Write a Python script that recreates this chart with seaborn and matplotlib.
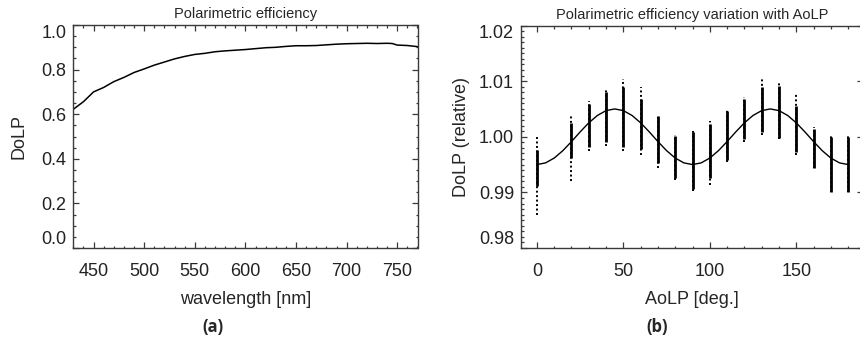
import numpy as np
import pandas as pd
import matplotlib
matplotlib.use("Agg")
import matplotlib.pyplot as plt
import seaborn as sns
from matplotlib.ticker import MultipleLocator

# ---------------- data ----------------
wavelength = [430, 440, 450, 460, 470, 480, 490, 500, 510, 520, 530, 540, 550,
              560, 570, 580, 590, 600, 610, 620, 630, 640, 650, 660, 670, 680,
              690, 700, 710, 720, 730, 740, 745, 750, 760, 770]
dolp = [0.622, 0.656, 0.700, 0.720, 0.746, 0.765, 0.787, 0.803, 0.820, 0.834,
        0.848, 0.859, 0.868, 0.873, 0.880, 0.884, 0.887, 0.890, 0.894, 0.898,
        0.900, 0.904, 0.907, 0.907, 0.908, 0.911, 0.914, 0.916, 0.917, 0.918,
        0.917, 0.918, 0.917, 0.910, 0.908, 0.903]

# fitted curve of relative DoLP vs AoLP
fit_aolp = [0, 5, 10, 15, 20, 25, 30, 35, 40, 45, 50, 55, 60, 65, 70, 75, 80,
            85, 90, 95, 100, 105, 110, 115, 120, 125, 130, 135, 140, 145, 150,
            155, 160, 165, 170, 175, 180]
fit_dolp = [0.99500, 0.99530, 0.99617, 0.99750, 0.99913, 1.00087, 1.00250,
            1.00383, 1.00470, 1.00500, 1.00470, 1.00383, 1.00250, 1.00087,
            0.99913, 0.99750, 0.99617, 0.99530, 0.99500, 0.99530, 0.99617,
            0.99750, 0.99913, 1.00087, 1.00250, 1.00383, 1.00470, 1.00500,
            1.00470, 1.00383, 1.00250, 1.00087, 0.99913, 0.99750, 0.99617,
            0.99530, 0.99500]

# measured relative DoLP columns: sparse extent (min/max) and dense core
col_aolp = [0, 20, 30, 40, 50, 60, 70, 80, 90, 100, 110, 120, 130, 140, 150,
            160, 170, 180]
col_min = [0.9860, 0.9920, 0.9974, 0.9984, 0.9974, 0.9968, 0.9944, 0.9923,
           0.9903, 0.9913, 0.9955, 0.9990, 1.0003, 0.9996, 0.9968, 0.9943,
           0.9900, 0.9900]
col_max = [1.0003, 1.0040, 1.0064, 1.0084, 1.0103, 1.0089, 1.0040, 1.0004,
           1.0010, 1.0029, 1.0050, 1.0071, 1.0106, 1.0098, 1.0076, 1.0017,
           1.0001, 1.0001]
core_lo = [0.9912, 0.9962, 0.9982, 0.9990, 0.9982, 0.9978, 0.9952, 0.9925,
           0.9906, 0.9925, 0.9958, 0.9996, 1.0008, 0.9998, 0.9973, 0.9944,
           0.9900, 0.9900]
core_hi = [0.9976, 1.0024, 1.0058, 1.0080, 1.0090, 1.0068, 1.0037, 1.0001,
           1.0008, 1.0023, 1.0047, 1.0068, 1.0090, 1.0091, 1.0056, 1.0014,
           1.0000, 1.0000]

# ---------------- styling ----------------
sns.set_theme(style="white")
plt.rcParams["font.family"] = ["Liberation Sans", "DejaVu Sans"]
spine_col = "#3a3a3a"
plt.rcParams.update({
    "axes.edgecolor": spine_col,
    "axes.linewidth": 1.0,
    "xtick.color": spine_col,
    "ytick.color": spine_col,
    "xtick.labelcolor": "#222222",
    "ytick.labelcolor": "#222222",
})

fig = plt.figure(figsize=(8.6, 3.48), dpi=100)
W, H = 860.0, 348.0

def px_axes(l, r, t, b):
    return fig.add_axes([l / W, 1 - b / H, (r - l) / W, (b - t) / H])

ax1 = px_axes(73.3, 417.5, 25, 248)
ax2 = px_axes(521, 862.5, 25.5, 248)

def style_axes(ax):
    ax.tick_params(which="both", direction="in", top=True, right=True,
                   bottom=True, left=True, labelsize=13, width=0.9,
                   color=spine_col)
    ax.tick_params(which="major", length=4.0)
    ax.tick_params(which="minor", length=1.8)
    ax.tick_params(axis="x", pad=11)
    ax.tick_params(axis="y", pad=5)
    for s in ax.spines.values():
        s.set_color(spine_col)
        s.set_linewidth(1.0)

# ---- panel (a) ----
df1 = pd.DataFrame({"wavelength": wavelength, "dolp": dolp})
sns.lineplot(data=df1, x="wavelength", y="dolp", ax=ax1, color="black",
             linewidth=1.1)
ax1.set_xlim(430, 770)
ax1.set_ylim(0.0, 1.0)
ax1.set_xticks([450, 500, 550, 600, 650, 700, 750])
ax1.set_yticks([0.0, 0.2, 0.4, 0.6, 0.8, 1.0])
ax1.set_yticklabels(["0.0", "0.2", "0.4", "0.6", "0.8", "1.0"])
ax1.xaxis.set_minor_locator(MultipleLocator(10))
ax1.yaxis.set_minor_locator(MultipleLocator(0.05))
style_axes(ax1)
ax1.set_xlabel("wavelength [nm]", fontsize=13, labelpad=8)
ax1.set_ylabel("DoLP", fontsize=13, labelpad=10)
ax1.set_title("Polarimetric efficiency", fontsize=10.5, pad=5)
labs = ax1.get_yticklabels()
labs[0].set_va("bottom")
labs[-1].set_va("top")

# ---- panel (b) ----
ax2.vlines(col_aolp, col_min, col_max, colors="black", linewidth=1.4,
           linestyles=(0, (1.0, 1.3)))
ax2.vlines(col_aolp, core_lo, core_hi, colors="black", linewidth=2.0)
df2 = pd.DataFrame({"aolp": fit_aolp, "dolp": fit_dolp})
sns.lineplot(data=df2, x="aolp", y="dolp", ax=ax2, color="black",
             linewidth=1.0)
ax2.set_xlim(-9.2, 188.3)
ax2.set_ylim(0.98, 1.02)
ax2.set_xticks([0, 50, 100, 150])
ax2.set_yticks([0.98, 0.99, 1.00, 1.01, 1.02])
ax2.set_yticklabels(["0.98", "0.99", "1.00", "1.01", "1.02"])
ax2.xaxis.set_minor_locator(MultipleLocator(10))
ax2.yaxis.set_minor_locator(MultipleLocator(0.001))
style_axes(ax2)
ax2.set_xlabel("AoLP [deg.]", fontsize=13, labelpad=8)
ax2.set_ylabel("DoLP (relative)", fontsize=13, labelpad=6)
ax2.set_title("Polarimetric efficiency variation with AoLP", fontsize=10.5,
              pad=5)
labs = ax2.get_yticklabels()
labs[0].set_va("bottom")
labs[-1].set_va("top")

# panel letters
fig.text(213 / W, 1 - 327 / H, "(a)", ha="center", va="center",
         fontsize=12, fontweight="bold", family=["Open Sans", "DejaVu Sans"])
fig.text(657 / W, 1 - 327 / H, "(b)", ha="center", va="center",
         fontsize=12, fontweight="bold", family=["Open Sans", "DejaVu Sans"])

fig.savefig("out.png", dpi=100)
